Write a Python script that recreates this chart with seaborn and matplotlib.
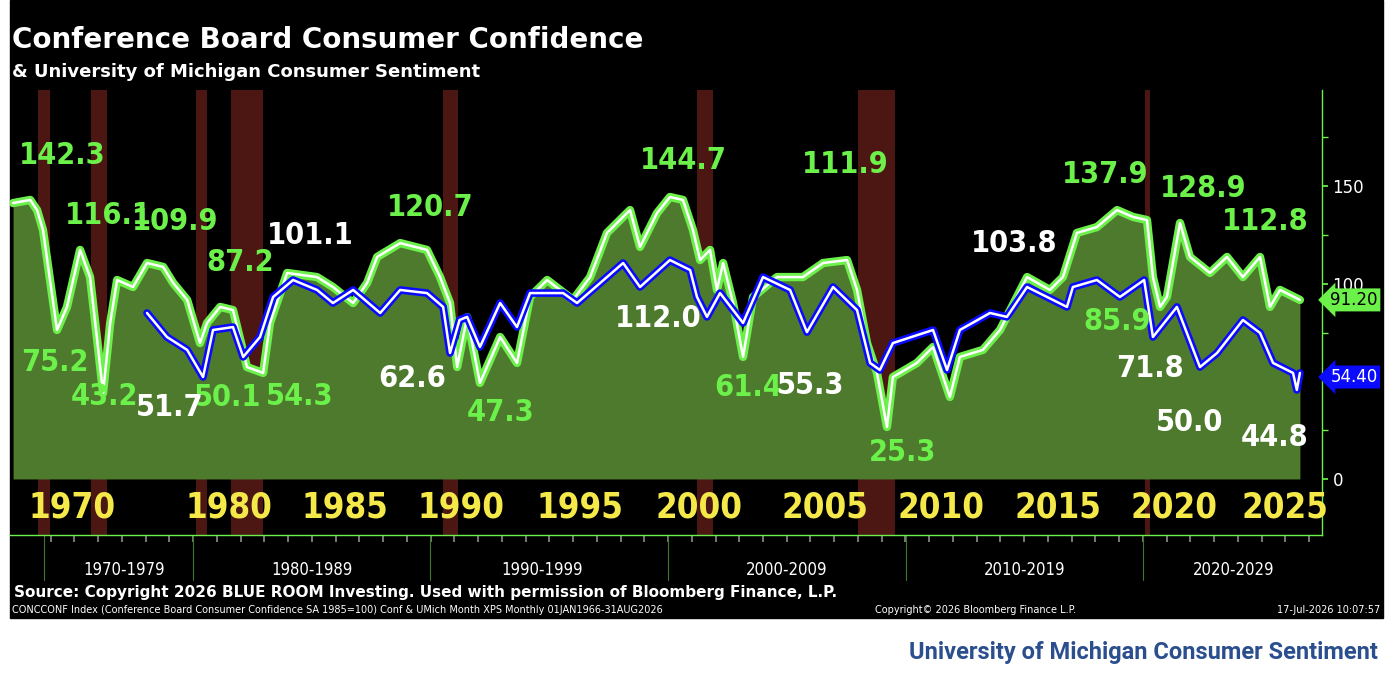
"""Conference Board Consumer Confidence vs UMich Consumer Sentiment (Bloomberg-style chart)."""

import numpy as np
import pandas as pd
import matplotlib.pyplot as plt
from matplotlib.patches import Rectangle
import seaborn as sns

# chart position in years (early bimonthly history is squeezed as on the terminal)
CB_T = [1972.42, 1973.14, 1973.43, 1973.68, 1974.27, 1974.69, 1975.24, 1975.66, 1975.96, 1976.21,
        1976.51, 1976.80, 1977.47, 1978.06, 1978.74, 1979.16, 1979.75, 1980.29, 1980.59, 1981.14,
        1981.68, 1982.27, 1982.95, 1983.24, 1983.96, 1985.22, 1985.89, 1986.74, 1987.33, 1987.75,
        1988.72, 1989.85, 1990.40, 1990.82, 1991.12, 1991.54, 1992.08, 1992.93, 1993.64, 1994.19,
        1994.91, 1996.00, 1996.72, 1997.43, 1998.40, 1998.82, 1999.54, 2000.08, 2000.63, 2001.05,
        2001.35, 2001.77, 2002.06, 2002.32, 2002.74, 2003.16, 2003.58, 2004.59, 2005.68, 2006.53,
        2007.54, 2007.96, 2008.38, 2008.80, 2009.22, 2009.47, 2010.48, 2011.16, 2011.87, 2012.29,
        2013.26, 2013.98, 2014.69, 2015.12, 2016.08, 2016.63, 2017.22, 2018.06, 2018.91, 2019.58,
        2020.17, 2020.42, 2020.72, 2021.01, 2021.56, 2021.98, 2022.82, 2023.54, 2024.21, 2024.93,
        2025.35, 2025.77, 2026.61]
CB_V = [141.3, 142.9, 137.7, 127.5, 76.3, 88.1, 117.3, 103.4, 71.2, 44.0,
        79.9, 101.9, 98.3, 110.6, 108.6, 100.4, 91.7, 69.6, 79.9, 88.1,
        86.5, 57.3, 54.3, 79.9, 105.5, 103.4, 98.3, 90.1, 100.4, 113.7,
        120.8, 117.3, 103.4, 90.1, 57.3, 82.9, 49.2, 72.7, 59.4, 93.2,
        101.9, 91.7, 103.4, 126.0, 137.7, 118.8, 136.2, 144.4, 142.9, 127.5,
        112.1, 117.3, 96.8, 110.6, 90.1, 62.5, 93.2, 103.4, 103.4, 110.6,
        112.1, 96.8, 69.6, 54.3, 26.6, 52.2, 59.4, 67.6, 42.0, 62.5,
        66.1, 76.3, 93.2, 103.4, 96.8, 103.4, 126.0, 129.0, 137.7, 134.2,
        132.6, 103.4, 88.1, 93.2, 131.1, 113.7, 105.5, 113.7, 103.4, 113.7,
        88.1, 96.8, 91.7]
UM_T = [1978.06, 1978.90, 1979.75, 1980.42, 1980.84, 1981.68, 1982.11, 1982.82, 1983.37, 1984.21,
        1985.22, 1985.89, 1986.74, 1987.88, 1988.72, 1989.85, 1990.53, 1990.82, 1991.22, 1991.54,
        1992.08, 1992.93, 1993.64, 1994.19, 1995.58, 1996.17, 1997.43, 1998.11, 1998.82, 2000.08,
        2000.93, 2001.22, 2001.64, 2002.19, 2003.16, 2004.00, 2005.14, 2005.85, 2006.95, 2007.96,
        2008.51, 2008.92, 2009.47, 2011.16, 2011.75, 2012.29, 2013.56, 2014.27, 2015.12, 2016.80,
        2017.05, 2018.06, 2019.03, 2020.05, 2020.42, 2021.43, 2022.40, 2023.12, 2024.21, 2024.93,
        2025.48, 2026.32, 2026.48, 2026.61]
UM_V = [85.0, 72.7, 66.1, 52.2, 76.3, 77.8, 62.5, 72.7, 93.2, 101.9,
        96.8, 90.1, 96.8, 85.0, 96.8, 95.2, 88.1, 64.5, 81.4, 83.0,
        67.6, 90.1, 77.8, 95.2, 95.2, 90.1, 103.4, 110.6, 98.3, 112.1,
        107.0, 93.2, 83.0, 95.2, 79.9, 103.4, 96.8, 75.2, 98.3, 86.5,
        59.4, 55.8, 69.6, 76.3, 55.8, 76.3, 85.0, 83.0, 98.3, 88.1,
        98.3, 101.9, 93.2, 101.9, 72.7, 88.1, 57.3, 64.5, 81.4, 74.8,
        59.4, 54.3, 45.6, 54.3]

RECESSIONS = [(1973.47, 1973.98), (1975.71, 1976.38), (1980.13, 1980.59), (1981.60, 1982.95),
              (1990.53, 1991.16), (2001.22, 2001.89), (2008.00, 2009.56), (2020.10, 2020.30)]

YEAR_LABELS = ["1970", "1980", "1985", "1990", "1995", "2000", "2005", "2010", "2015", "2020", "2025"]
YEAR_POS = [1974.9, 1981.5, 1986.4, 1991.3, 1996.3, 2001.3, 2006.6, 2011.5, 2016.4, 2021.3, 2026.0]
DECADE_EDGES = [1973.73, 1980.0, 1989.98, 2000.0, 2010.02, 2020.0]
DECADE_LABELS = ["1970-1979", "1980-1989", "1990-1999", "2000-2009", "2010-2019", "2020-2029"]
DECADE_POS = [1977.1, 1985.0, 1994.7, 2005.0, 2015.0, 2023.8]

# annotated extremes: (text, x, y)
GREEN_NOTES = [("142.3", 1974.48, 165.4), ("116.1", 1976.42, 134.7), ("109.9", 1979.24, 131.6),
               ("87.2", 1981.98, 111.1), ("75.2", 1974.19, 59.4), ("43.2", 1976.29, 42.0),
               ("50.1", 1981.47, 41.5), ("54.3", 1984.51, 42.0), ("120.7", 1989.98, 138.8),
               ("47.3", 1992.93, 33.8), ("144.7", 2000.63, 163.3), ("61.4", 2003.37, 46.6),
               ("111.9", 2007.45, 160.8), ("25.3", 2009.89, 13.8), ("137.9", 2018.40, 155.7),
               ("85.9", 2018.90, 80.4), ("128.9", 2022.53, 149.0), ("112.8", 2025.14, 131.6)]
WHITE_NOTES = [("101.1", 1984.93, 124.9), ("51.7", 1979.03, 36.4), ("62.6", 1989.22, 51.7),
               ("112.0", 1999.58, 82.4), ("55.3", 2006.02, 48.1), ("103.8", 2014.57, 120.8),
               ("71.8", 2020.29, 56.8), ("50.0", 2021.98, 28.7), ("44.8", 2025.56, 21.0)]

LIME = "#6cf04a"
BIG = dict(family="DejaVu Sans", fontstretch="condensed", fontsize=22, fontweight="bold")


def draw_chart():
    sns.set_theme(style="dark", rc={"axes.facecolor": "black"})
    plt.rcParams["font.family"] = ["DejaVu Sans"]
    fig = plt.figure(figsize=(13.96, 6.82), dpi=100, facecolor="white")
    fig.patches.append(Rectangle((10 / 1396, 64 / 682), 1373 / 1396, 618 / 682,
                                 transform=fig.transFigure, color="black", zorder=-5))
    ax = fig.add_axes([10 / 1396, 1 - 535 / 682, 1312 / 1396, 445 / 682])
    ax.set_facecolor("black")

    cb = pd.DataFrame({"t": CB_T, "v": CB_V})
    um = pd.DataFrame({"t": UM_T, "v": UM_V})

    for a, b in RECESSIONS:
        ax.axvspan(a, b, color="#5a1a16", alpha=0.85, zorder=1, lw=0)
    ax.fill_between(cb["t"], 0, cb["v"], color="#4e7a2e", zorder=2, lw=0)
    sns.lineplot(data=cb, x="t", y="v", ax=ax, color=LIME, lw=6, zorder=3)
    sns.lineplot(data=cb, x="t", y="v", ax=ax, color="white", lw=1.8, zorder=4)
    sns.lineplot(data=um, x="t", y="v", ax=ax, color="#0a0aff", lw=5.5, zorder=5)
    sns.lineplot(data=um, x="t", y="v", ax=ax, color="white", lw=1.8, zorder=6)

    for txt, x, y in GREEN_NOTES:
        ax.text(x, y, txt, color=LIME, ha="center", va="center", zorder=8, **BIG)
    for txt, x, y in WHITE_NOTES:
        ax.text(x, y, txt, color="white", ha="center", va="center", zorder=8, **BIG)
    for txt, x in zip(YEAR_LABELS, YEAR_POS):
        ax.text(x, -14.8, txt, color="#f5e94a", ha="center", va="center", zorder=8,
                **{**BIG, "fontsize": 25})

    ax.set_xlim(1972.29, 2027.54)
    ax.set_ylim(-28.7, 199.2)
    ax.set_xlabel("")
    ax.set_ylabel("")
    ax.yaxis.tick_right()
    ax.set_yticks([0, 50, 100, 150])
    ax.set_yticks([25, 75, 125, 175], minor=True)
    ax.tick_params(axis="y", which="both", colors=LIME, labelcolor="white", labelsize=12,
                   direction="out", length=4, right=True)
    ax.set_xticks(np.arange(1974, 2028))
    ax.set_xticklabels([])
    ax.tick_params(axis="x", colors="#888888", direction="out", length=5, bottom=True)
    for side in ["left", "top"]:
        ax.spines[side].set_visible(False)
    for side in ["right", "bottom"]:
        ax.spines[side].set_visible(True)
        ax.spines[side].set_color(LIME)
        ax.spines[side].set_linewidth(1)
    ax.grid(False)

    # last value tags
    ax.annotate("91.20", xy=(1.0, CB_V[-1]), xycoords=("axes fraction", "data"), xytext=(6, 0),
                textcoords="offset points", color="black", fontsize=12, va="center",
                bbox=dict(boxstyle="larrow,pad=0.15", fc=LIME, ec="none"), annotation_clip=False)
    ax.annotate("54.40", xy=(1.0, 52.2), xycoords=("axes fraction", "data"), xytext=(6, 0),
                textcoords="offset points", color="white", fontsize=12, va="center",
                bbox=dict(boxstyle="larrow,pad=0.15", fc="#0a0aff", ec="none"), annotation_clip=False)

    # decade strip under the axis
    trans = ax.get_xaxis_transform()
    for x in DECADE_EDGES:
        ax.plot([x, x], [0, -0.1], color="#3c7a2a", lw=0.8, transform=trans, clip_on=False)
    for txt, x in zip(DECADE_LABELS, DECADE_POS):
        ax.text(x, -0.078, txt, color="white", fontsize=12, fontstretch="condensed",
                ha="center", va="center", transform=trans)

    fig.text(12 / 1396, 1 - 40 / 682, "Conference Board Consumer Confidence", color="white",
             fontsize=20, fontweight="bold", va="center")
    fig.text(12 / 1396, 1 - 72 / 682, "& University of Michigan Consumer Sentiment", color="white",
             fontsize=13, fontweight="bold", va="center")
    fig.text(14 / 1396, 1 - 592 / 682,
             "Source: Copyright 2026 BLUE ROOM Investing. Used with permission of Bloomberg Finance, L.P.",
             color="white", fontsize=11, fontweight="bold", va="center")
    fig.text(12 / 1396, 1 - 610 / 682,
             "CONCCONF Index (Conference Board Consumer Confidence SA 1985=100) Conf & UMich Month XPS Monthly 01JAN1966-31AUG2026",
             color="white", fontsize=7, va="center")
    fig.text(875 / 1396, 1 - 610 / 682, "Copyright\u00a9 2026 Bloomberg Finance L.P.", color="white",
             fontsize=7, va="center")
    fig.text(1380 / 1396, 1 - 610 / 682, "17-Jul-2026 10:07:57", color="white", fontsize=7,
             ha="right", va="center")
    fig.text(1378 / 1396, 1 - 653 / 682, "University of Michigan Consumer Sentiment", color="#2b4f8e",
             fontsize=17, fontweight="bold", family=["Roboto", "DejaVu Sans"], ha="right", va="center")
    return fig


def main():
    fig = draw_chart()
    fig.savefig("out.png", dpi=100, facecolor="white")


if __name__ == "__main__":
    main()
